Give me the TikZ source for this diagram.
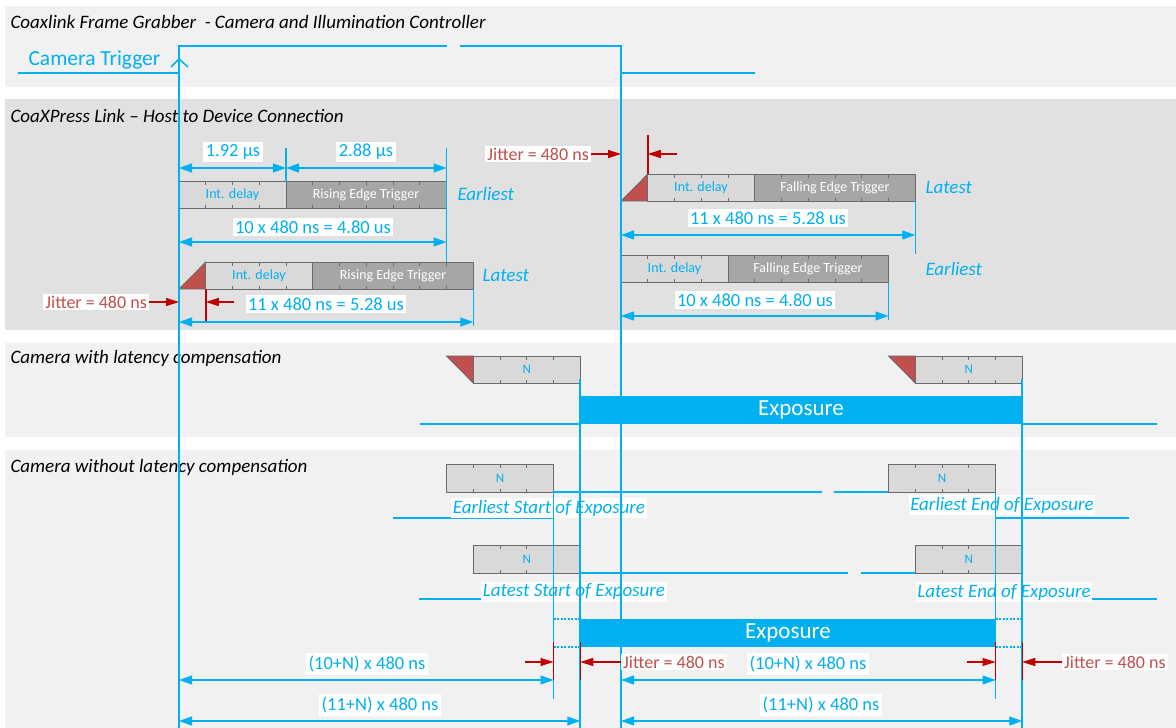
\documentclass[tikz,border=0pt]{standalone}
\usepackage{fontspec}
\setmainfont{Carlito}
\usepackage{xcolor}
\usetikzlibrary{arrows.meta,calc,positioning}
\definecolor{sigblue}{HTML}{00B0F0}
\definecolor{jitred}{HTML}{C0504D}
\definecolor{arrred}{HTML}{C00000}
\definecolor{panellight}{HTML}{F1F1F1}
\definecolor{paneldark}{HTML}{E1E1E1}
\definecolor{boxlight}{HTML}{D9D9D9}
\definecolor{boxdark}{HTML}{A6A6A6}
\definecolor{boxedge}{HTML}{6A6A6A}
\newcommand{\tslot}{26.75}
\newcommand{\segticks}[4]{%
	\foreach \k in {1,...,#2}{
		\draw[segtick] ({#1+\k*\tslot},#3) -- ++(0,3.5);
		\draw[segtick] ({#1+\k*\tslot},#4) -- ++(0,-3.5);
	}}
\tikzset{
	every picture/.style={>=latex},
	signal/.style={draw=sigblue,line width=1.8pt},
	dimline/.style={draw=sigblue,line width=1.2pt,
		{Triangle[length=13pt,width=9pt]}-{Triangle[length=13pt,width=9pt]}},
	jitarrow/.style={draw=arrred,line width=1.4pt,-{Triangle[length=13pt,width=8pt]}},
	redtick/.style={draw=arrred,line width=1.5pt},
	title/.style={anchor=west,font=\fontsize{19}{22}\selectfont\itshape},
	dimlabel/.style={fill=white,text=sigblue,inner sep=2.5pt,font=\fontsize{18.5}{20}\selectfont},
	jitlabel/.style={fill=white,text=jitred,inner sep=2pt,font=\fontsize{18}{20}\selectfont},
	edgelabel/.style={anchor=west,text=sigblue,font=\fontsize{19}{22}\selectfont\itshape},
	explabel/.style={fill=white,text=sigblue,inner sep=1.5pt,font=\fontsize{19}{22}\selectfont\itshape},
	lightseg/.style={fill=boxlight,draw=boxedge,line width=0.8pt},
	darkseg/.style={fill=boxdark,draw=boxedge,line width=0.8pt},
	segtick/.style={draw=boxedge,line width=0.8pt},
	wedge/.style={fill=jitred,draw=boxedge,line width=0.8pt},
	intlabel/.style={text=sigblue,font=\fontsize{14}{16}\selectfont},
	trglabel/.style={text=white,font=\fontsize{14}{16}\selectfont},
	nlabel/.style={text=sigblue,font=\fontsize{13}{15}\selectfont},
	exptext/.style={text=white,font=\fontsize{23}{26}\selectfont},
	dotline/.style={draw=sigblue,line width=1.3pt,dash pattern=on 2pt off 1.5pt}
}
\begin{document}
\begin{tikzpicture}[x=1pt,y=-1pt]
\useasboundingbox (0,0) rectangle (1176,728);
% panels
\fill[panellight] (5,6) rectangle (1176,87);
\fill[paneldark] (5,99) rectangle (1176,330);
\fill[panellight] (5,343) rectangle (1176,437);
\fill[panellight] (5,450) rectangle (1176,728);
\node[title] (tgrab) at (7,22) {Coaxlink Frame Grabber\ \ - Camera and Illumination Controller};
\node[title] (tlink) at (7,116) {CoaXPress Link – Host to Device Connection};
\node[title] (tcomp) at (7,358) {Camera with latency compensation};
\node[title] (tnocomp) at (7,467) {Camera without latency compensation};

% time marks, one slot = 480 ns
\coordinate (rise) at (179,0);
\coordinate (fall) at (621,0);
\foreach \n/\k in {r1/1,r4/4,r5/5,r10/10,r11/11,r14/14,r15/15}
	\coordinate (\n) at ({179+\k*\tslot},0);
\foreach \n/\k in {f1/1,f4/4,f5/5,f10/10,f11/11,f14/14,f15/15}
	\coordinate (\n) at ({621+\k*\tslot},0);

% camera trigger
\node[anchor=west,text=sigblue,font=\fontsize{21.5}{24}\selectfont] (trig) at (25,60) {Camera Trigger};
\draw[signal] (18,73) -- (rise |- 0,73) -- (rise |- 0,46) -- (447,46);
\draw[signal] (460,46) -- (fall |- 0,46) -- (fall |- 0,73) -- (755,73);
\draw[signal,line width=1.5pt] (171,67) -- (rise |- 0,59) -- (188,67);

% host to device: rising edge
\draw[lightseg] (rise |- 0,181) rectangle (r4 |- 0,208);
\draw[darkseg] (r4 |- 0,181) rectangle (r10 |- 0,208);
\segticks{179}{9}{181}{208}
\node[intlabel] (rint1) at (232.5,194.5) {Int. delay};
\node[trglabel] (redge1) at (366,194.5) {Rising Edge Trigger};
\node[edgelabel] (rearly) at (454,194) {Earliest};

\fill[wedge] (rise |- 0,289) -- (r1 |- 0,262) -- (r1 |- 0,289) -- cycle;
\draw[lightseg] (r1 |- 0,262) rectangle (r5 |- 0,289);
\draw[darkseg] (r5 |- 0,262) rectangle (r11 |- 0,289);
\segticks{205.75}{9}{262}{289}
\node[intlabel] (rint2) at (259,275.5) {Int. delay};
\node[trglabel] (redge2) at (393,275.5) {Rising Edge Trigger};
\node[edgelabel] (rlate) at (479,275) {Latest};

% host to device: falling edge
\fill[wedge] (fall |- 0,201) -- (f1 |- 0,174) -- (f1 |- 0,201) -- cycle;
\draw[lightseg] (f1 |- 0,174) rectangle (f5 |- 0,201);
\draw[darkseg] (f5 |- 0,174) rectangle (f11 |- 0,201);
\segticks{647.75}{9}{174}{201}
\node[intlabel] (fint1) at (701,187.5) {Int. delay};
\node[trglabel] (fedge1) at (835,187.5) {Falling Edge Trigger};
\node[edgelabel] (flate) at (922,187) {Latest};

\draw[lightseg] (fall |- 0,255) rectangle (f4 |- 0,282);
\draw[darkseg] (f4 |- 0,255) rectangle (f10 |- 0,282);
\segticks{621}{9}{255}{282}
\node[intlabel] (fint2) at (674.5,268.5) {Int. delay};
\node[trglabel] (fedge2) at (808,268.5) {Falling Edge Trigger};
\node[edgelabel] (fearly) at (922,269) {Earliest};

% camera with latency compensation
\fill[wedge] (r10 |- 0,356) -- (r11 |- 0,356) -- (r11 |- 0,383) -- cycle;
\draw[lightseg] (r11 |- 0,356) rectangle (r15 |- 0,383);
\segticks{473.25}{3}{356}{383}
\node[nlabel] (cn1) at (526.75,369.5) {N};
\fill[wedge] (f10 |- 0,356) -- (f11 |- 0,356) -- (f11 |- 0,383) -- cycle;
\draw[lightseg] (f11 |- 0,356) rectangle (f15 |- 0,383);
\segticks{915.25}{3}{356}{383}
\node[nlabel] (cn2) at (968.75,369.5) {N};
\draw[signal] (420,424) -- (r15 |- 0,424);
\draw[signal] (f15 |- 0,424) -- (1157,424);
\fill[sigblue] (r15 |- 0,396) rectangle (f15 |- 0,424);
\node[exptext] (exp1) at (801,410) {Exposure};

% camera without latency compensation
\draw[signal] (393,518) -- (r14 |- 0,518) -- (r14 |- 0,492) -- (822,492);
\draw[signal] (834,492) -- (f14 |- 0,492) -- (f14 |- 0,518) -- (1129,518);
\draw[signal] (419,599) -- (r15 |- 0,599) -- (r15 |- 0,573) -- (848,573);
\draw[signal] (861,573) -- (f15 |- 0,573) -- (f15 |- 0,599) -- (1157,599);
\draw[lightseg] (r10 |- 0,464) rectangle (r14 |- 0,492);
\segticks{446.5}{3}{464}{492}
\node[nlabel] (nn1) at (500,478) {N};
\draw[lightseg] (f10 |- 0,464) rectangle (f14 |- 0,492);
\segticks{888.5}{3}{464}{492}
\node[nlabel] (nn2) at (942,478) {N};
\draw[lightseg] (r11 |- 0,545) rectangle (r15 |- 0,573);
\segticks{473.25}{3}{545}{573}
\node[nlabel] (nn3) at (526.75,559) {N};
\draw[lightseg] (f11 |- 0,545) rectangle (f15 |- 0,573);
\segticks{915.25}{3}{545}{573}
\node[nlabel] (nn4) at (968.75,559) {N};
\node[explabel] (sEarly) at (549,508) {Earliest Start of Exposure};
\node[explabel] (eEarly) at (1002,505) {Earliest End of Exposure};
\node[explabel] (sLate) at (574,592) {Latest Start of Exposure};
\node[explabel] (eLate) at (1004,592) {Latest End of Exposure};
\fill[sigblue] (r15 |- 0,619) rectangle (f14 |- 0,647);
\node[exptext] (exp2) at (788,633) {Exposure};
\draw[dotline] (r14 |- 0,619) -- (r15 |- 0,619);
\draw[dotline] (r14 |- 0,647) -- (r15 |- 0,647);
\draw[dotline] (f14 |- 0,619) -- (f15 |- 0,619);
\draw[dotline] (f14 |- 0,647) -- (f15 |- 0,647);

% timing verticals
\draw[signal] (rise |- 0,46) -- (rise |- 0,728);
\draw[signal] (fall |- 0,46) -- (fall |- 0,728);
\draw[signal] (r15 |- 0,379) -- (r15 |- 0,728);
\draw[signal] (f15 |- 0,379) -- (f15 |- 0,728);
\draw[signal,line width=1.3pt] (r14 |- 0,492) -- (r14 |- 0,699);
\draw[signal,line width=1.3pt] (f14 |- 0,492) -- (f14 |- 0,699);
\draw[signal,line width=1.3pt] (r4 |- 0,148) -- (r4 |- 0,182);
\draw[signal,line width=1.3pt] (r10 |- 0,148) -- (r10 |- 0,262);
\draw[signal,line width=1.3pt] (r11 |- 0,289) -- (r11 |- 0,326);
\draw[signal,line width=1.3pt] (f11 |- 0,201) -- (f11 |- 0,254);
\draw[signal,line width=1.3pt] (f10 |- 0,282) -- (f10 |- 0,320);

% dimensions
\draw[dimline] (rise |- 0,168) -- (r4 |- 0,168);
\draw[dimline] (r4 |- 0,168) -- (r10 |- 0,168);
\node[dimlabel] (d192) at (233,152) {1.92 µs};
\node[dimlabel] (d288) at (366,152) {2.88 µs};
\draw[dimline] (rise |- 0,242) -- (r10 |- 0,242);
\node[dimlabel] (dre) at (313,227) {10 x 480 ns = 4.80 us};
\draw[dimline] (rise |- 0,322) -- (r11 |- 0,322);
\node[dimlabel] (drl) at (326,304) {11 x 480 ns = 5.28 us};
\draw[dimline] (fall |- 0,235) -- (f11 |- 0,235);
\node[dimlabel] (dfl) at (768,218) {11 x 480 ns = 5.28 us};
\draw[dimline] (fall |- 0,316) -- (f10 |- 0,316);
\node[dimlabel] (dfe) at (755,300) {10 x 480 ns = 4.80 us};
\draw[dimline] (rise |- 0,680) -- (r14 |- 0,680);
\node[dimlabel] (dn10a) at (367,664) {(10+N) x 480 ns};
\draw[dimline] (rise |- 0,721) -- (r15 |- 0,721);
\node[dimlabel] (dn11a) at (380,705) {(11+N) x 480 ns};
\draw[dimline] (fall |- 0,680) -- (f14 |- 0,680);
\node[dimlabel] (dn10b) at (808,664) {(10+N) x 480 ns};
\draw[dimline] (fall |- 0,721) -- (f15 |- 0,721);
\node[dimlabel] (dn11b) at (821,705) {(11+N) x 480 ns};

% jitter
\draw[redtick] (r1 |- 0,289) -- (r1 |- 0,321);
\node[jitlabel,anchor=east] (jit1) at (149,302) {Jitter = 480 ns};
\draw[jitarrow] (jit1.east) -- (rise |- 0,302);
\draw[jitarrow] (234,302) -- (r1 |- 0,302);
\draw[redtick] (f1 |- 0,135) -- (f1 |- 0,174);
\node[jitlabel,anchor=east] (jit2) at (591,154) {Jitter = 480 ns};
\draw[jitarrow] (jit2.east) -- (fall |- 0,154);
\draw[jitarrow] (677,154) -- (f1 |- 0,154);
\foreach \n in {r14,r15,f14,f15}
	\draw[redtick] (\n |- 0,642) -- (\n |- 0,680);
\draw[jitarrow] (525,662) -- (r14 |- 0,662);
\node[jitlabel,anchor=west] (jit3) at (621,662) {Jitter = 480 ns};
\draw[jitarrow] (jit3.west) -- (r15 |- 0,662);
\draw[jitarrow] (967,662) -- (f14 |- 0,662);
\node[jitlabel,anchor=west] (jit4) at (1062,662) {Jitter = 480 ns};
\draw[jitarrow] (jit4.west) -- (f15 |- 0,662);
\end{tikzpicture}
\end{document}
